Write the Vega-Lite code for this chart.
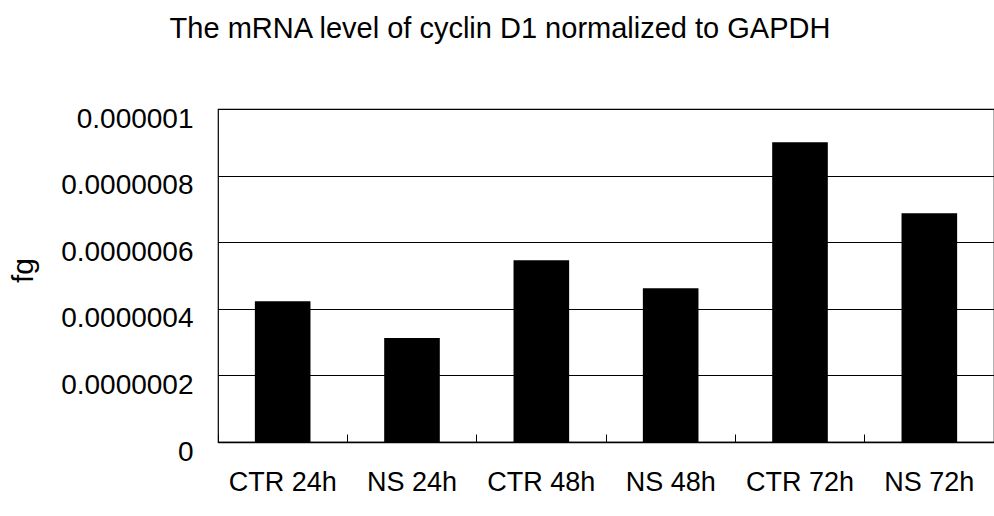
{
  "$schema": "https://vega.github.io/schema/vega-lite/v6.json",
  "autosize": "none",
  "width": 776,
  "height": 333,
  "padding": {"left": 218, "top": 109, "right": 0, "bottom": 74},
  "background": "white",
  "title": {
    "text": "The mRNA level of cyclin D1 normalized to GAPDH",
    "font": "Liberation Sans",
    "fontSize": 29,
    "fontWeight": "normal",
    "color": "black",
    "anchor": "middle",
    "dx": -106,
    "baseline": "alphabetic",
    "offset": 38
  },
  "data": {
    "values": [
      {"group": "CTR 24h", "value": 4.23e-7},
      {"group": "NS 24h", "value": 3.12e-7},
      {"group": "CTR 48h", "value": 5.46e-7},
      {"group": "NS 48h", "value": 4.62e-7},
      {"group": "CTR 72h", "value": 9.0e-7},
      {"group": "NS 72h", "value": 6.87e-7}
    ]
  },
  "mark": {"type": "bar", "color": "black", "width": {"band": 0.43}},
  "encoding": {
    "x": {
      "field": "group",
      "type": "nominal",
      "sort": null,
      "scale": {"paddingInner": 0, "paddingOuter": 0},
      "axis": {
        "title": null,
        "labelAngle": 0,
        "labelFont": "Liberation Sans",
        "labelFontSize": 27,
        "labelColor": "black",
        "labelBaseline": "alphabetic",
        "labelPadding": 56,
        "bandPosition": 0,
        "ticks": true,
        "tickSize": -8,
        "tickColor": "black",
        "domainColor": "black",
        "domainWidth": 1.5,
        "grid": false
      }
    },
    "y": {
      "field": "value",
      "type": "quantitative",
      "scale": {"domain": [0, 1e-6], "nice": false},
      "axis": {
        "title": "fg",
        "titleFont": "Liberation Sans",
        "titleFontSize": 30,
        "titleFontWeight": "normal",
        "titleColor": "black",
        "titleAngle": -90,
        "titleAlign": "center",
        "titleBaseline": "middle",
        "titleX": -195,
        "titleY": 161,
        "values": [0, 2e-7, 4e-7, 6e-7, 8e-7, 1e-6],
        "format": ".7~f",
        "labelFont": "Liberation Sans",
        "labelFontSize": 28,
        "labelColor": "black",
        "labelPadding": 25,
        "labelOffset": 10,
        "ticks": false,
        "domain": false,
        "grid": true,
        "gridColor": "black",
        "gridWidth": 1
      }
    }
  },
  "config": {
    "view": {"stroke": "black", "strokeWidth": 1.2}
  }
}
